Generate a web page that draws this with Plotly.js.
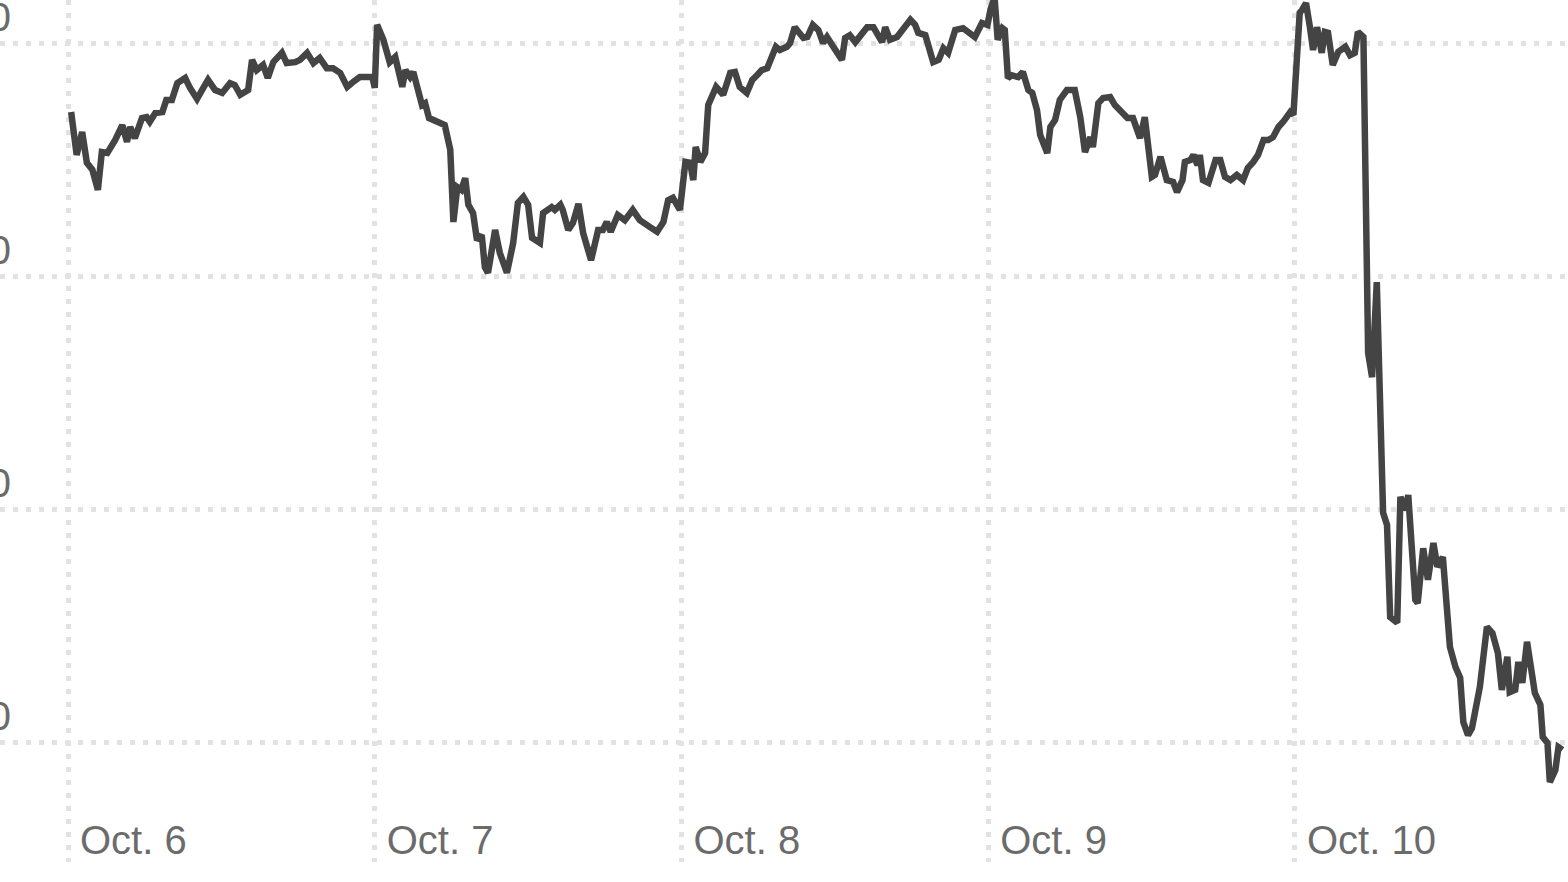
<!DOCTYPE html>
<html>
<head>
<meta charset="utf-8">
<script src="https://cdn.plot.ly/plotly-3.0.1.min.js"></script>
<style>
  html, body { margin:0; padding:0; background:#fff; }
  #chart { width:1568px; height:882px; }
</style>
</head>
<body>
<div id="chart"></div>
<script>
// ── trading days shown (one slot per session, 9:30–16:00 = 390 min)
const days      = ['Oct. 6', 'Oct. 7', 'Oct. 8', 'Oct. 9', 'Oct. 10'];
const yTicks    = [6600, 6650, 6700, 6750];

// minutes after the open, and index level
const oct6Min = [4,11,18,24,31,38,43,50,60,69,75,79,85,94,100,104,111,120,125,132,139,149,155,164,172,178,187,196,206,212,219,229,234,240,248,254,261,272,278,289,295,304,312,320,329,337,346,355,362,371,387,390];
const oct6Val = [6735.4,6726.2,6731.1,6724.5,6723.0,6718.7,6726.8,6726.6,6729.4,6732.6,6729.0,6732.2,6729.8,6734.1,6734.3,6733.3,6735.2,6735.4,6738.0,6738.0,6741.6,6742.7,6740.6,6738.2,6740.6,6742.3,6740.1,6739.5,6741.6,6741.2,6739.1,6740.1,6746.6,6744.4,6745.5,6742.7,6746.1,6748.1,6745.9,6746.1,6746.6,6748.1,6745.9,6747.0,6744.8,6744.8,6743.8,6740.8,6741.8,6742.9,6742.9,6740.6];

const oct7Min = [3,11,19,26,35,39,45,49,60,64,69,80,89,96,100,105,110,115,119,125,130,136,140,144,153,159,168,176,182,189,195,200,210,214,225,229,236,239,246,252,259,265,275,284,290,295,300,309,318,328,337,350,359,367,373,379,388];
const oct7Val = [6754.1,6750.9,6746.1,6747.2,6740.8,6744.4,6742.9,6744.0,6736.9,6737.3,6734.1,6733.3,6732.6,6727.3,6711.8,6719.3,6718.7,6721.2,6715.5,6713.7,6707.9,6709.0,6702.1,6700.9,6710.1,6705.2,6700.9,6707.3,6715.9,6717.2,6715.5,6708.4,6707.3,6713.7,6715.0,6714.4,6715.5,6714.4,6710.1,6711.6,6715.7,6709.4,6703.6,6710.1,6710.1,6711.8,6709.7,6713.3,6712.2,6714.4,6712.2,6710.7,6709.7,6711.8,6716.5,6717.0,6714.4];

const oct8Min = [5,11,15,18,24,30,34,44,53,62,68,74,83,90,96,102,109,120,125,134,138,144,155,160,167,174,180,185,193,199,204,208,214,221,230,236,244,255,259,265,274,282,291,297,301,310,315,320,327,333,339,348,358,364,373,382,389];
const oct8Val = [6724.7,6724.5,6720.8,6727.9,6724.7,6726.6,6736.9,6740.8,6739.1,6743.8,6744.0,6740.8,6739.5,6742.3,6743.3,6744.4,6744.8,6749.4,6748.7,6749.4,6750.2,6753.6,6751.3,6751.5,6754.1,6753.0,6750.2,6751.5,6749.4,6747.6,6746.6,6751.3,6751.9,6750.4,6752.4,6753.6,6753.6,6750.4,6753.6,6750.9,6751.5,6753.0,6755.2,6754.1,6752.4,6751.9,6749.1,6746.1,6746.6,6749.1,6748.1,6753.0,6753.4,6752.6,6751.5,6754.5,6754.1];

const oct9Min = [3,8,12,18,21,25,30,38,44,51,56,62,66,75,79,85,91,100,110,117,123,130,133,140,146,155,161,170,177,184,193,199,208,212,219,227,235,240,247,250,257,261,266,269,273,280,289,295,301,308,316,324,330,337,343,350,356,362,369,375,384,388];
const oct9Val = [6757.5,6760.0,6750.9,6753.4,6753.0,6742.7,6743.3,6742.9,6744.0,6740.1,6739.5,6735.8,6730.5,6726.6,6732.2,6733.7,6738.0,6740.1,6740.1,6734.3,6726.8,6730.0,6727.9,6737.3,6738.4,6738.6,6736.9,6735.4,6734.1,6734.1,6729.8,6734.3,6721.5,6721.9,6725.8,6720.8,6720.4,6718.2,6720.8,6724.7,6725.1,6726.2,6724.0,6726.2,6720.8,6720.2,6725.1,6725.1,6721.5,6720.8,6721.9,6720.8,6723.4,6724.7,6726.2,6729.4,6729.4,6730.0,6732.2,6733.3,6735.4,6734.8];

const oct10Min = [6,9,14,19,23,28,34,38,42,48,55,64,70,76,80,87,93,98,104,112,117,121,130,134,140,144,153,156,163,169,176,181,188,197,204,210,214,220,225,235,244,251,258,263,270,273,280,284,289,295,301,305,312,315,321,324,331,335,340];
const oct10Val = [6756.7,6757.3,6758.8,6753.6,6748.7,6753.6,6748.1,6752.6,6752.4,6745.5,6748.3,6749.4,6747.6,6748.1,6752.6,6751.5,6683.7,6678.5,6698.9,6649.4,6646.8,6627.0,6625.8,6652.8,6650.0,6653.2,6630.7,6630.0,6641.8,6635.0,6642.9,6637.8,6639.9,6620.6,6616.3,6614.0,6604.5,6601.7,6603.2,6612.0,6624.9,6623.6,6619.3,6611.4,6618.5,6610.9,6611.4,6617.4,6612.9,6621.7,6614.2,6610.7,6608.2,6601.3,6600.0,6591.6,6594.2,6599.1,6598.5];

// ── build one continuous series, each session squeezed into one day slot
const SESSION = 390;
const sessions = [[oct6Min, oct6Val], [oct7Min, oct7Val], [oct8Min, oct8Val], [oct9Min, oct9Val], [oct10Min, oct10Val]];
const xs = [], ys = [];
sessions.forEach(([mins, vals], d) => {
  mins.forEach((m, i) => { xs.push(d + m / SESSION); ys.push(vals[i]); });
});

const GRID  = '#e2e2e2';
const LABEL = '#6b6b6b';
const FONT  = 'Liberation Sans, Arial, sans-serif';

const trace = {
  x: xs, y: ys, type: 'scatter', mode: 'lines',
  line: { color: '#444444', width: 6.5, shape: 'linear' },
  hoverinfo: 'skip', showlegend: false,
};

const layout = {
  width: 1568, height: 882,
  margin: { l: 0, r: 0, t: 0, b: 20 },
  paper_bgcolor: '#fff', plot_bgcolor: '#fff',
  font: { family: FONT, size: 40, color: LABEL },
  xaxis: {
    range: [-0.2217, 4.890],
    tickvals: days.map((_, i) => i), ticktext: days,
    ticklabelposition: 'inside right', ticklabelshift: 12, ticklabelstandoff: -6,
    showgrid: true, gridcolor: GRID, gridwidth: 5, griddash: '5px,8px',
    zeroline: false, showline: false, ticks: '',
    tickfont: { family: FONT, size: 40, color: LABEL },
    fixedrange: true,
  },
  yaxis: {
    range: [6574.46, 6759.44],
    tickvals: yTicks, tickformat: ',d',
    ticklabelposition: 'outside', ticklabelstandoff: -12, ticklabelshift: -27,
    ticklabeloverflow: 'allow',
    showgrid: true, gridcolor: GRID, gridwidth: 5, griddash: '5px,8px',
    zeroline: false, showline: false, ticks: '', automargin: false,
    tickfont: { family: FONT, size: 40, color: LABEL },
    fixedrange: true,
  },
};

Plotly.newPlot('chart', [trace], layout, { displayModeBar: false, staticPlot: true });
</script>
</body>
</html>
